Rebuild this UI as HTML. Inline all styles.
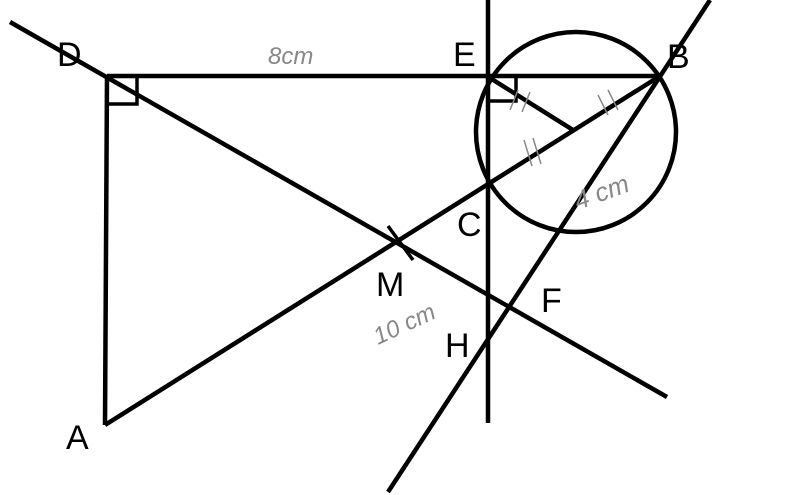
<!DOCTYPE html>
<html><head><style>body{margin:0;background:#fff}svg{display:block}</style></head>
<body>
<svg width="800" height="495" viewBox="0 0 800 495" xmlns="http://www.w3.org/2000/svg">
<g stroke="#000" stroke-width="4.5" fill="none" stroke-linecap="butt">
<line x1="107" y1="76" x2="660" y2="76"/>
<line x1="107" y1="76" x2="105" y2="425"/>
<line x1="105" y1="425" x2="660" y2="76"/>
<line x1="10" y1="22" x2="667" y2="397"/>
<line x1="488" y1="0" x2="488" y2="423"/>
<line x1="388" y1="492" x2="710" y2="0"/>
<line x1="490" y1="78" x2="573" y2="130"/>
<circle cx="576" cy="132" r="100"/>
<polyline points="107,104 137,104 137,78" stroke-width="3.5"/>
<polyline points="490,101 516,101 516,78" stroke-width="3.5"/>
<line x1="388" y1="226" x2="413" y2="260" stroke-width="3.5"/>
</g>
<g font-family="Liberation Sans, sans-serif" font-size="34" fill="#000">
<text x="57" y="66">D</text>
<text x="453" y="66">E</text>
<text x="667" y="68">B</text>
<text x="457" y="236">C</text>
<text x="376" y="296">M</text>
<text x="541" y="312">F</text>
<text x="445" y="357">H</text>
<text x="66" y="449">A</text>
</g>
<g font-family="Liberation Sans, sans-serif" fill="#888" font-style="italic">
<text x="268" y="64" font-size="24">8cm</text>
<text x="578" y="210" font-size="26" transform="rotate(-20 578 210)">4 cm</text>
<text x="378" y="345" font-size="24" transform="rotate(-25 378 345)">10 cm</text>
</g>
<g stroke="#888" stroke-width="1.5" fill="none">
<path d="M510 110 l8 -20 M522 112 l8 -20"/>
<path d="M598 95 l10 20 M608 90 l10 20"/>
<path d="M524 140 l8 26 M533 138 l8 26"/>
</g>
</svg>
</body></html>
